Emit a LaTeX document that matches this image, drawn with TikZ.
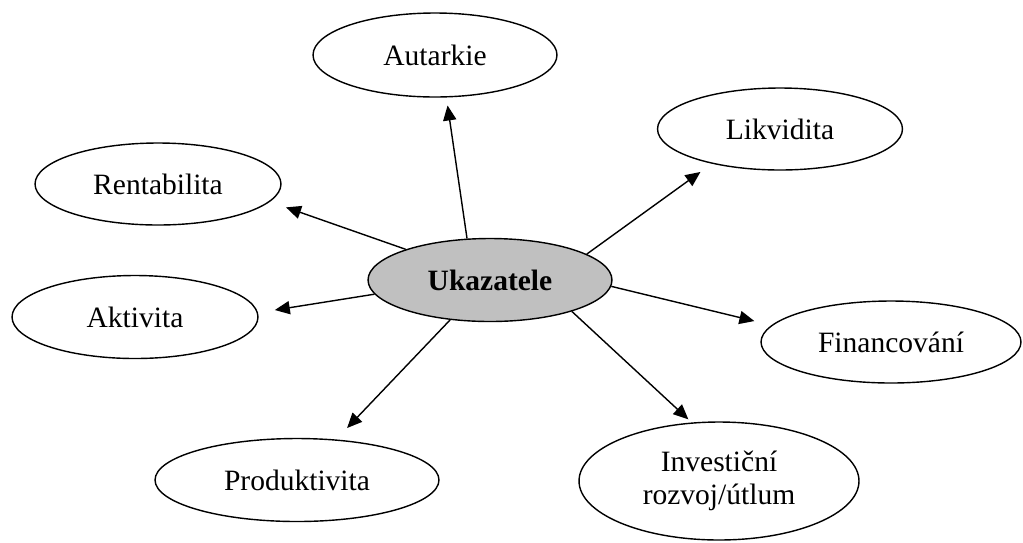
\documentclass[tikz,border=0pt]{standalone}
\usepackage{fontspec}
\setmainfont{Liberation Serif}
\usetikzlibrary{shapes.geometric,arrows.meta}
\definecolor{ukgray}{RGB}{192,192,192}

\begin{document}
\begin{tikzpicture}[x = 0.02cm, y = -0.02cm,
    every node/.style = {draw = black, shape = ellipse, line width = .8pt, inner sep = 0pt, minimum width = 4.92cm, minimum height = 1.64cm, align = center, font = \fontsize{16.8}{19}\selectfont},
    arr/.style = {-{Triangle[length = 8.5pt, width = 7.5pt]}, line width = .8pt}]
    \useasboundingbox (0,0) rectangle (1023,542);
    \node (uk) at (490,280) [fill = ukgray, minimum width = 4.88cm, minimum height = 1.66cm, font = \fontsize{16.8}{19}\selectfont\bfseries] {Ukazatele};
    \node (aut) at (435,55) [minimum width = 4.88cm, minimum height = 1.68cm] {Autarkie};
    \node (lik) at (780,129) [minimum width = 4.9cm] {Likvidita};
    \node (ren) at (158,184) {Rentabilita};
    \node (akt) at (135,317) [minimum height = 1.66cm] {Aktivita};
    \node (fin) at (891,342) [minimum width = 5.2cm] {Financování};
    \node (pro) at (297,480) [minimum width = 5.68cm, minimum height = 1.66cm] {Produktivita};
    \node (inv) at (719,481) [minimum width = 5.6cm, minimum height = 2.36cm] {Investiční\\rozvoj/útlum};
    \draw [arr, shorten > = 4.6pt] (uk.119.9) -- (aut.285.9);
    \draw [arr, shorten > = 8pt] (uk.15.1) -- (lik.207.6);
    \draw [arr, shorten > = 9.7pt] (uk.160.6) -- (ren.351.3);
    \draw [arr, shorten > = 9.7pt] (uk.187.3) -- (akt.2.1);
    \draw [arr, shorten > = 10pt] (uk.357.7) -- (fin.172);
    \draw [arr, shorten > = 9pt] (uk.225) -- (pro.46.1);
    \draw [arr, shorten > = 2.6pt] (uk.339.9) -- (inv.115.3);
\end{tikzpicture}
\end{document}
